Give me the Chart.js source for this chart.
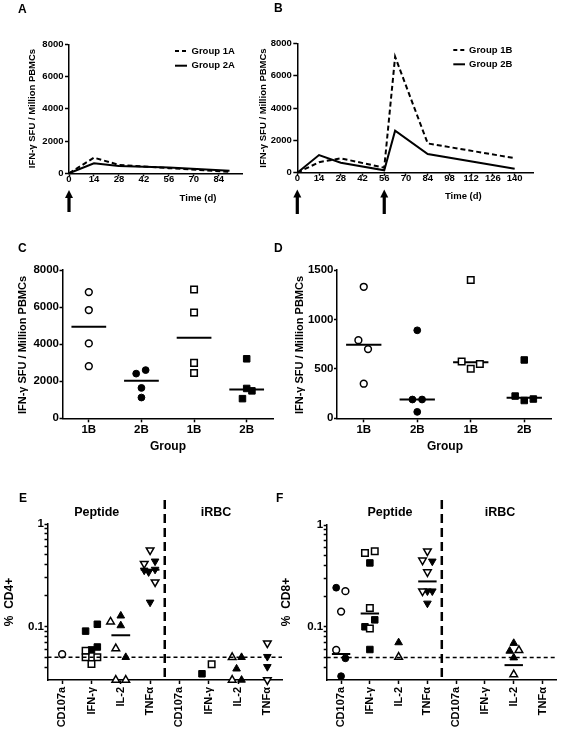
<!DOCTYPE html>
<html>
<head>
<meta charset="utf-8">
<script src="https://cdn.jsdelivr.net/npm/chart.js@4.4.0/dist/chart.umd.min.js"></script>
<style>
html,body{margin:0;padding:0;background:#fff;}
body{width:563px;height:733px;position:relative;overflow:hidden;}
canvas{position:absolute;left:0;top:0;}
</style>
</head>
<body>
<canvas id="cA" width="563" height="733"></canvas>
<canvas id="cB" width="563" height="733"></canvas>
<canvas id="cC" width="563" height="733"></canvas>
<canvas id="cD" width="563" height="733"></canvas>
<canvas id="cE" width="563" height="733"></canvas>
<canvas id="cF" width="563" height="733"></canvas>
<script>
// ================= DATA =================
// Panel A
const aDays = [0, 14, 28, 56, 90];
const aGroup1A = [0, 970, 520, 320, 90];
const aGroup2A = [0, 620, 450, 360, 160];
const aXTicks = [0, 14, 28, 42, 56, 70, 84];
const aYTicks = [0, 2000, 4000, 6000, 8000];
const aArrowDays = [0];
// Panel B
const bDays = [0, 14, 28, 56, 63, 84, 140];
const bGroup1B = [0, 650, 890, 310, 7170, 1810, 900];
const bGroup2B = [0, 1090, 620, 145, 2600, 1155, 250];
const bXTicks = [0, 14, 28, 42, 56, 70, 84, 98, 112, 126, 140];
const bYTicks = [0, 2000, 4000, 6000, 8000];
const bArrowDays = [0, 56];
// Panel C
const cCategories = ['1B', '2B', '1B', '2B'];
const cValues = [[6810, 5840, 4040, 2810], [2410, 2600, 1640, 1120], [6950, 5710, 2990, 2450], [3210, 1610, 1480, 1060]];
const cJitter = [[0, 0, 0, 0], [-0.1, 0.08, 0, 0], [0, 0, 0, 0], [0, 0, 0.1, -0.08]];
const cMedians = [4940, 2020, 4340, 1550];
const cYTicks = [0, 2000, 4000, 6000, 8000];
// Panel D
const dCategories = ['1B', '2B', '1B', '2B'];
const dValues = [[1330, 790, 700, 350], [890, 190, 190, 65], [1400, 575, 500, 550], [590, 225, 180, 195]];
const dJitter = [[0, -0.1, 0.08, 0], [0, -0.09, 0.09, 0], [0, -0.17, 0, 0.17], [0, -0.17, 0, 0.17]];
const dMedians = [745, 190, 566, 208];
const dYTicks = [0, 500, 1000, 1500];
// Panel E (% CD4+)
const eCategories = ['CD107a', 'IFN-γ', 'IL-2', 'TNFα', 'CD107a', 'IFN-γ', 'IL-2', 'TNFα'];
const eOpen = [[0.0535], [0.058, 0.05, 0.05, 0.043], [0.111, 0.061, 0.03, 0.03], [0.555, 0.41, 0.271], [], [0.0427], [0.05, 0.03], [0.0687, 0.03]];
const eOpenJitter = [[0], [-0.2, -0.2, 0.2, 0], [-0.35, -0.17, -0.17, 0.17], [0, -0.2, 0.17], [], [0.1], [-0.2, -0.2], [0, 0]];
const eFilled = [[], [0.09, 0.105, 0.063, 0.059], [0.127, 0.102, 0.05], [0.433, 0.36, 0.353, 0.34, 0.172], [], [0.0345], [0.05, 0.0386, 0.03], [0.0507, 0.0404]];
const eFilledJitter = [[], [-0.2, 0.2, 0.2, 0], [0, 0, 0.17], [0.17, 0.17, -0.2, -0.05, 0], [], [-0.23], [0.12, -0.05, 0.12], [0, 0]];
const eMedians = [null, 0.061, 0.082, 0.358, null, null, null, null];
// Panel F (% CD8+)
const fCategories = ['CD107a', 'IFN-γ', 'IL-2', 'TNFα', 'CD107a', 'IFN-γ', 'IL-2', 'TNFα'];
const fOpen = [[0.224, 0.141, 0.0592], [0.532, 0.553, 0.153, 0.096], [0.0505], [0.553, 0.45, 0.345, 0.224], [], [], [0.0589, 0.034], []];
const fOpenJitter = [[0.15, 0, -0.17], [-0.17, 0.17, 0, 0], [0], [0, -0.17, 0, -0.17], [], [], [0.18, 0], []];
const fFilled = [[0.242, 0.049, 0.0327], [0.424, 0.1, 0.117, 0.0598], [0.07], [0.44, 0.224, 0.224, 0.17], [], [], [0.069, 0.0578, 0.0497], []];
const fFilledJitter = [[-0.17, 0.15, 0], [0, -0.17, 0.17, 0], [0], [0.17, 0, 0.17, 0], [], [], [0, -0.14, 0], []];
const fMedians = [0.054, 0.135, null, 0.279, null, null, 0.042, null];
const logYTicks = [0.04, 0.05, 0.06, 0.07, 0.08, 0.09, 0.1, 0.2, 0.3, 0.4, 0.5, 0.6, 0.7, 0.8, 0.9, 1];
const cutoff = 0.05;
const stimGroups = ['Peptide', 'iRBC'];

// ================= HELPERS =================
const W = 563, H = 733;
const FONT = '"Liberation Sans", Arial, sans-serif';
Chart.defaults.font.family = FONT;
Chart.defaults.font.weight = 'bold';
Chart.defaults.color = '#000';
Chart.defaults.animation = false;

function pad(a, yW, xH) { return {left: a.L - yW, top: a.T, right: W - a.R, bottom: H - a.B - xH}; }

function txt(ctx, s, x, y, size, o) {
  o = o || {};
  ctx.save();
  ctx.font = 'bold ' + size + 'px ' + FONT;
  ctx.fillStyle = '#000';
  ctx.textAlign = o.align || 'center';
  ctx.textBaseline = o.baseline || 'middle';
  ctx.translate(x, y);
  if (o.rot) ctx.rotate(o.rot);
  ctx.fillText(s, 0, 0);
  ctx.restore();
}
function line(ctx, x0, y0, x1, y1, w, dash) {
  ctx.save();
  ctx.strokeStyle = '#000'; ctx.lineWidth = w; ctx.setLineDash(dash || []);
  ctx.beginPath(); ctx.moveTo(x0, y0); ctx.lineTo(x1, y1); ctx.stroke();
  ctx.restore();
}
function arrow(ctx, x, yTip, yTail) {
  ctx.save();
  ctx.fillStyle = '#000';
  ctx.fillRect(x - 1.6, yTip + 6, 3.2, yTail - yTip - 6);
  ctx.beginPath(); ctx.moveTo(x, yTip); ctx.lineTo(x + 4, yTip + 8); ctx.lineTo(x - 4, yTip + 8); ctx.closePath(); ctx.fill();
  ctx.restore();
}
function ax(o) {
  return {
    type: o.type || 'linear',
    min: o.min, max: o.max,
    border: {display: true, color: '#000', width: 1.5},
    grid: {display: true, drawOnChartArea: false, drawTicks: true, tickLength: o.tl, tickColor: '#000', tickWidth: 1.5, color: '#000'},
    ticks: {color: '#000', font: {size: o.fs, weight: 'bold', family: FONT}, padding: o.pad, autoSkip: false,
            maxRotation: o.rot || 0, minRotation: o.rot || 0, callback: o.cb || (v => String(v))},
    afterBuildTicks: s => { s.ticks = o.ticks.map(v => ({value: v})); },
    afterFit: s => { if (o.w != null) s.width = o.w; if (o.h != null) s.height = o.h; }
  };
}
const baseOpts = {responsive: false, animation: false, events: [], plugins: {legend: {display: false}, tooltip: {enabled: false}}};

function lineSet(label, days, vals, dash) {
  return {label: label, data: days.map((d, i) => ({x: d, y: vals[i]})), borderColor: '#000', borderWidth: 2,
          borderDash: dash, pointRadius: 0, fill: false, tension: 0, clip: false};
}
function marker(vals, jit, center, style, rot, filled, r) {
  return {data: vals.map((v, i) => ({x: center + jit[i], y: v})), pointStyle: style, rotation: rot, pointRadius: r,
          backgroundColor: filled ? '#000' : '#fff', borderColor: '#000', borderWidth: filled ? 1 : 1.5, showLine: false, clip: false};
}
function medianSet(m, center, half) {
  return {data: [{x: center - half, y: m}, {x: center + half, y: m}], showLine: true, pointRadius: 0,
          borderColor: '#000', borderWidth: 2, clip: false};
}
const LETTER = 12;

// ================= PANEL A =================
const areaA = {L: 69, T: 44.3, R: 242, B: 173.3};
new Chart(document.getElementById('cA'), {
  type: 'line',
  data: {datasets: [lineSet('Group 1A', aDays, aGroup1A, [5, 3]), lineSet('Group 2A', aDays, aGroup2A, [])]},
  options: Object.assign({}, baseOpts, {
    layout: {padding: pad(areaA, 50, 30)},
    scales: {
      x: ax({min: 0, max: 97, ticks: aXTicks, fs: 9.5, tl: 3, pad: -3, h: 30}),
      y: ax({min: 0, max: 8000, ticks: aYTicks, fs: 9.5, tl: 4, pad: 1.5, w: 50})
    }
  }),
  plugins: [{id: 'ovA', afterDraw(chart) {
    const ctx = chart.ctx, xs = chart.scales.x, ds = chart.data.datasets;
    txt(ctx, 'A', 18, 13, LETTER, {align: 'left', baseline: 'alphabetic'});
    line(ctx, 175, 51, 187, 51, 2, [4, 3]); txt(ctx, ds[0].label, 191.5, 51, 9.5, {align: 'left'});
    line(ctx, 175, 65.7, 187, 65.7, 2); txt(ctx, ds[1].label, 191.5, 65.7, 9.5, {align: 'left'});
    aArrowDays.forEach(d => arrow(ctx, xs.getPixelForValue(d), 190, 212));
    txt(ctx, 'Time (d)', 198, 198, 9.5);
    txt(ctx, 'IFN-γ SFU / Million PBMCs', 32.7, 108.5, 9.5, {rot: -Math.PI / 2});
  }}]
});

// ================= PANEL B =================
const areaB = {L: 297.3, T: 43.3, R: 533.3, B: 172.7};
new Chart(document.getElementById('cB'), {
  type: 'line',
  data: {datasets: [lineSet('Group 1B', bDays, bGroup1B, [5, 3]), lineSet('Group 2B', bDays, bGroup2B, [])]},
  options: Object.assign({}, baseOpts, {
    layout: {padding: pad(areaB, 50, 30)},
    scales: {
      x: ax({min: 0, max: 152, ticks: bXTicks, fs: 9.5, tl: 3, pad: -3, h: 30}),
      y: ax({min: 0, max: 8000, ticks: bYTicks, fs: 9.5, tl: 4, pad: 1.5, w: 50})
    }
  }),
  plugins: [{id: 'ovB', afterDraw(chart) {
    const ctx = chart.ctx, xs = chart.scales.x, ds = chart.data.datasets;
    txt(ctx, 'B', 274, 12, LETTER, {align: 'left', baseline: 'alphabetic'});
    line(ctx, 453.3, 50, 465, 50, 2, [4, 3]); txt(ctx, ds[0].label, 469, 50, 9.5, {align: 'left'});
    line(ctx, 453.3, 64.3, 465, 64.3, 2); txt(ctx, ds[1].label, 469, 64.3, 9.5, {align: 'left'});
    bArrowDays.forEach(d => arrow(ctx, xs.getPixelForValue(d), 189.5, 214));
    txt(ctx, 'Time (d)', 463.3, 196, 9.5);
    txt(ctx, 'IFN-γ SFU / Million PBMCs', 263.3, 108, 9.5, {rot: -Math.PI / 2});
  }}]
});

// ================= PANELS C & D =================
const cdStyles = ['circle', 'circle', 'rect', 'rect'];
const cdFilled = [false, true, false, true];
function dotChart(id, area, cats, values, jitter, medians, yTicks, yMax, letter, letterX, titleX, groupX) {
  const sets = values.map((vals, g) => marker(vals, jitter[g], g + 1, cdStyles[g], 0, cdFilled[g], cdStyles[g] === 'rect' ? 4.6 : 3.4));
  const meds = medians.map((m, g) => medianSet(m, g + 1, 0.33));
  new Chart(document.getElementById(id), {
    type: 'scatter',
    data: {datasets: sets.concat(meds)},
    options: Object.assign({}, baseOpts, {
      layout: {padding: pad(area, 50, 20)},
      scales: {
        x: ax({min: 0.5, max: 4.5, ticks: [1, 2, 3, 4], fs: 11.5, tl: 4, pad: 1, h: 20, cb: v => cats[v - 1]}),
        y: ax({min: 0, max: yMax, ticks: yTicks, fs: 11.5, tl: 3, pad: 0.5, w: 50})
      }
    }),
    plugins: [{id: 'ov' + id, afterDraw(chart) {
      const ctx = chart.ctx;
      txt(ctx, letter, letterX, 252, LETTER, {align: 'left', baseline: 'alphabetic'});
      txt(ctx, 'Group', groupX, 446.7, 12);
      txt(ctx, 'IFN-γ SFU / Million PBMCs', titleX, 345, 11, {rot: -Math.PI / 2});
    }}]
  });
}
dotChart('cC', {L: 62.5, T: 270, R: 273, B: 418.3}, cCategories, cValues, cJitter, cMedians, cYTicks, 8000, 'C', 18, 22.7, 168);
dotChart('cD', {L: 337, T: 270, R: 551, B: 418.3}, dCategories, dValues, dJitter, dMedians, dYTicks, 1500, 'D', 274, 300, 445);

// ================= PANELS E & F =================
const efStyles = ['circle', 'rect', 'triangle', 'triangle', 'circle', 'rect', 'triangle', 'triangle'];
const efRot = [0, 0, 0, 180, 0, 0, 0, 180];
const efRadius = {circle: 3.4, rect: 4.6, triangle: 4.4};
function flowChart(id, area, cats, open, openJ, filled, filledJ, medians, letter, letterX, title, titleX, pepX, rbcX) {
  const sets = [];
  cats.forEach((c, k) => {
    if (open[k].length) sets.push(marker(open[k], openJ[k], k + 1, efStyles[k], efRot[k], false, efRadius[efStyles[k]]));
    if (filled[k].length) sets.push(marker(filled[k], filledJ[k], k + 1, efStyles[k], efRot[k], true, efRadius[efStyles[k]]));
  });
  medians.forEach((m, k) => { if (m != null) sets.push(medianSet(m, k + 1, 0.32)); });
  new Chart(document.getElementById(id), {
    type: 'scatter',
    data: {datasets: sets},
    options: Object.assign({}, baseOpts, {
      layout: {padding: pad(area, 40, 52)},
      scales: {
        x: ax({min: 0.5, max: 8.5, ticks: [1, 2, 3, 4, 5, 6, 7, 8], fs: 11, tl: 4, pad: 3, h: 52, rot: 90, cb: v => cats[v - 1]}),
        y: ax({type: 'logarithmic', min: 0.03, max: 1, ticks: logYTicks, fs: 11.5, tl: 3, pad: 0.5, w: 40,
               cb: v => (v === 1 ? '1' : (v === 0.1 ? '0.1' : ''))})
      }
    }),
    plugins: [{id: 'ov' + id, afterDraw(chart) {
      const ctx = chart.ctx, xs = chart.scales.x, ys = chart.scales.y, ca = chart.chartArea;
      const yc = ys.getPixelForValue(cutoff);
      line(ctx, ca.left, yc, ca.right, yc, 1.5, [4, 3]);
      const xv = xs.getPixelForValue(4.5);
      line(ctx, xv, 500, xv, ca.bottom - 3, 2.5, [9, 5]);
      txt(ctx, letter, letterX, 501.5, LETTER, {align: 'left', baseline: 'alphabetic'});
      txt(ctx, stimGroups[0], pepX, 513, 12.5);
      txt(ctx, stimGroups[1], rbcX, 513, 12.5);
      txt(ctx, title, titleX, 602, 12, {rot: -Math.PI / 2});
    }}]
  });
}
flowChart('cE', {L: 47.5, T: 524, R: 282, B: 680}, eCategories, eOpen, eOpenJitter, eFilled, eFilledJitter, eMedians, 'E', 19, '%  CD4+', 10, 96.7, 216);
flowChart('cF', {L: 326.7, T: 525, R: 560, B: 680}, fCategories, fOpen, fOpenJitter, fFilled, fFilledJitter, fMedians, 'F', 276, '%  CD8+', 286.7, 390, 500);
</script>
</body>
</html>
